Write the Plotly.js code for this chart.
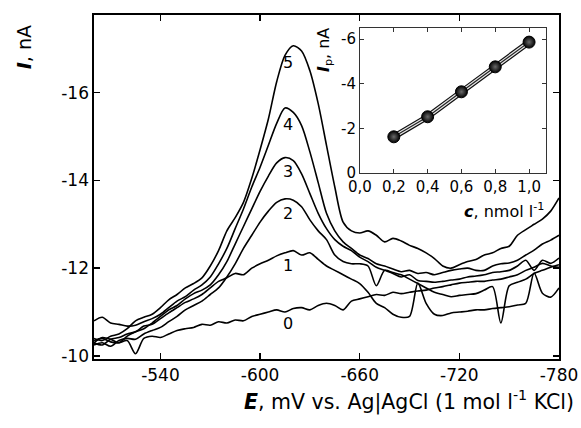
<!DOCTYPE html>
<html>
<head>
<meta charset="utf-8">
<script src="https://cdn.plot.ly/plotly-3.0.1.min.js"></script>
<style>html,body{margin:0;padding:0;background:#fff;}#chart{width:581px;height:428px;}</style>
</head>
<body>
<div id="chart"></div>
<script>
// Potential grid, mV
const E = [-500,-505,-510,-515,-520,-525,-530,-535,-540,-545,-550,-555,-560,-565,-570,-575,-580,-585,-590,-595,
-600,-605,-610,-615,-620,-625,-630,-635,-640,-645,-650,-655,-660,-665,-670,-675,-680,-685,-690,-695,
-700,-705,-710,-715,-720,-725,-730,-735,-740,-745,-750,-755,-760,-765,-770,-775,-780];

// Current, nA (curves 0..5)
const I0 = [-10.35,-10.40,-10.32,-10.30,-10.35,-10.05,-10.40,-10.45,-10.42,-10.50,-10.58,-10.62,-10.65,-10.72,-10.70,-10.78,-10.75,-10.82,-10.80,-10.90,
-10.95,-11.00,-11.05,-11.00,-11.08,-11.10,-11.05,-11.15,-11.20,-11.15,-11.05,-11.25,-11.30,-11.35,-11.40,-11.38,-11.45,-11.42,-11.45,-11.48,
-11.50,-11.55,-11.58,-11.62,-11.66,-11.68,-11.70,-11.70,-11.73,-11.75,-11.80,-11.85,-11.95,-12.02,-12.11,-12.05,-12.02];
const I1 = [-10.30,-10.25,-10.38,-10.42,-10.50,-10.55,-10.68,-10.72,-10.85,-10.98,-11.10,-11.22,-11.30,-11.40,-11.55,-11.70,-11.78,-11.88,-11.85,-12.00,
-12.10,-12.18,-12.28,-12.35,-12.40,-12.30,-12.35,-12.20,-12.05,-11.95,-11.85,-11.75,-11.65,-11.45,-11.20,-11.10,-10.95,-10.88,-10.90,-11.66,
-11.20,-10.95,-10.92,-10.98,-11.00,-11.02,-11.05,-11.05,-11.08,-11.10,-11.12,-11.16,-11.20,-11.89,-11.43,-11.34,-11.55];
const I2 = [-10.25,-10.30,-10.22,-10.35,-10.40,-10.38,-10.50,-10.58,-10.65,-10.78,-10.90,-11.05,-11.15,-11.25,-11.40,-11.55,-11.80,-12.10,-12.45,-12.75,
-13.05,-13.30,-13.50,-13.58,-13.55,-13.40,-13.10,-12.85,-12.65,-12.30,-12.15,-12.10,-12.10,-12.05,-11.60,-11.95,-11.90,-11.85,-11.75,-11.65,
-11.55,-11.45,-11.40,-11.35,-11.38,-11.40,-11.42,-11.50,-11.58,-10.75,-11.60,-11.68,-11.75,-11.88,-11.95,-12.02,-12.08];
const I3 = [-10.30,-10.42,-10.38,-10.30,-10.45,-10.55,-10.62,-10.75,-10.90,-11.05,-11.15,-11.30,-11.42,-11.50,-11.62,-11.85,-12.15,-12.55,-12.95,-13.35,
-13.75,-14.10,-14.40,-14.52,-14.45,-14.15,-13.70,-13.25,-12.90,-12.65,-12.50,-12.40,-12.25,-12.15,-12.02,-11.95,-11.88,-11.80,-11.85,-11.72,
-11.70,-11.68,-11.70,-11.73,-11.75,-11.80,-11.82,-11.85,-11.90,-11.92,-11.95,-12.05,-12.18,-11.95,-12.18,-12.11,-12.23];
const I4 = [-10.80,-10.88,-10.75,-10.72,-10.68,-10.70,-10.78,-10.85,-10.95,-11.10,-11.25,-11.35,-11.50,-11.62,-11.80,-12.10,-12.45,-12.90,-13.35,-13.85,
-14.30,-14.80,-15.30,-15.65,-15.55,-15.25,-14.65,-13.95,-13.25,-12.85,-12.60,-12.45,-12.30,-12.22,-12.10,-12.05,-11.98,-11.92,-11.95,-11.88,
-11.90,-11.85,-11.90,-11.95,-11.98,-12.00,-11.95,-11.95,-12.05,-12.10,-12.12,-12.18,-12.30,-12.41,-12.55,-12.64,-12.75];
const I5 = [-10.40,-10.35,-10.45,-10.50,-10.62,-10.80,-10.88,-10.95,-11.10,-11.28,-11.40,-11.55,-11.65,-11.78,-12.05,-12.40,-12.85,-13.15,-13.50,-14.05,
-14.70,-15.40,-16.25,-16.85,-17.07,-16.95,-16.50,-15.75,-14.80,-13.85,-13.05,-12.85,-12.80,-12.85,-12.75,-12.60,-12.68,-12.62,-12.52,-12.45,
-12.35,-12.22,-12.05,-12.00,-12.08,-12.15,-12.20,-12.30,-12.35,-12.45,-12.50,-12.75,-12.88,-13.00,-13.12,-13.30,-13.60];
const curves = [I0, I1, I2, I3, I4, I5];
const curveLabels = ['0','1','2','3','4','5'];
const labelI = [-10.75, -12.07, -13.25, -14.2, -15.27, -16.68];
const labelE = -617;

// Inset: peak current vs concentration
const conc = [0.2, 0.4, 0.6, 0.8, 1.0];
const Ip = [-1.62, -2.52, -3.64, -4.76, -5.87];

// Tick labels
const xTickVals = [-540, -600, -660, -720, -780];
const xTickText = ['-540', '-600', '-660', '-720', '-780'];
const yTickVals = [-10, -12, -14, -16];
const yTickText = ['-10', '-12', '-14', '-16'];
const x2TickVals = [0, 0.2, 0.4, 0.6, 0.8, 1.0];
const x2TickText = ['0,0', '0,2', '0,4', '0,6', '0,8', '1,0'];
const y2TickVals = [0, -2, -4, -6];
const y2TickText = ['0', '-2', '-4', '-6'];

const FONT = 'DejaVu Sans, Liberation Sans, Arial, sans-serif';

const traces = curves.map(function (c) {
  return {x: E, y: c, type: 'scatter', mode: 'lines', xaxis: 'x', yaxis: 'y',
    line: {color: '#000', width: 1.6, shape: 'spline', smoothing: 0.8}, hoverinfo: 'skip', showlegend: false};
});
traces.push({x: conc, y: Ip, type: 'scatter', mode: 'lines', xaxis: 'x2', yaxis: 'y2',
  line: {color: '#111', width: 6}, showlegend: false});
traces.push({x: conc, y: Ip, type: 'scatter', mode: 'lines', xaxis: 'x2', yaxis: 'y2',
  line: {color: '#e8e8e8', width: 3.6}, showlegend: false});
traces.push({x: conc, y: Ip, type: 'scatter', mode: 'lines+markers', xaxis: 'x2', yaxis: 'y2',
  line: {color: '#222', width: 1.2},
  marker: {size: 12, color: '#000', gradient: {type: 'radial', color: '#6a6a6a'}, line: {color: '#000', width: 1}},
  showlegend: false});

const annotations = curveLabels.map(function (t, k) {
  return {x: labelE, y: labelI[k], xref: 'x', yref: 'y', text: t, showarrow: false,
    font: {family: FONT, size: 16, color: '#000'}};
});
annotations.push({xref: 'paper', yref: 'paper', x: -0.15, y: 0.907, xanchor: 'center', yanchor: 'middle',
  text: '<b><i>I</i></b>, nA', textangle: -90, showarrow: false, font: {family: FONT, size: 19, color: '#000'}});
annotations.push({xref: 'paper', yref: 'paper', x: 1.036, y: -0.122, xanchor: 'right', yanchor: 'middle',
  text: '<b><i>E</i></b>, mV vs. Ag|AgCl (1 mol l<sup>-1</sup> KCl)', showarrow: false,
  font: {family: FONT, size: 20.5, color: '#000'}});
annotations.push({xref: 'paper', yref: 'paper', x: 0.4946, y: 0.898, xanchor: 'center', yanchor: 'middle',
  text: '<b><i>I</i></b><sub>p</sub>, nA', textangle: -90, showarrow: false, font: {family: FONT, size: 16, color: '#000'}});
annotations.push({xref: 'paper', yref: 'paper', x: 0.972, y: 0.433, xanchor: 'right', yanchor: 'middle',
  text: '<b><i>c</i></b>, nmol l<sup>-1</sup>', showarrow: false, font: {family: FONT, size: 16, color: '#000'}});

const layout = {
  width: 581, height: 428,
  margin: {l: 94, r: 22, t: 15, b: 69},
  paper_bgcolor: '#fff', plot_bgcolor: '#fff',
  showlegend: false,
  font: {family: FONT, color: '#000'},
  xaxis: {domain: [0, 1], anchor: 'y', range: [-500, -780], tickmode: 'array', tickvals: xTickVals, ticktext: xTickText,
    ticks: 'inside', ticklen: 6, tickwidth: 1.5, tickcolor: '#000', showline: true, linewidth: 1.6, linecolor: '#000',
    mirror: 'ticks', showgrid: false, zeroline: false, tickfont: {size: 17}},
  yaxis: {domain: [0, 1], anchor: 'x', range: [-9.93, -17.77], tickmode: 'array', tickvals: yTickVals, ticktext: yTickText,
    ticks: 'inside', ticklen: 6, tickwidth: 1.5, tickcolor: '#000', showline: true, linewidth: 1.6, linecolor: '#000',
    mirror: 'ticks', showgrid: false, zeroline: false, tickfont: {size: 17}},
  xaxis2: {domain: [0.572, 0.972], anchor: 'y2', range: [0, 1.1], tickmode: 'array', tickvals: x2TickVals, ticktext: x2TickText,
    ticks: 'inside', ticklen: 4, tickwidth: 1, tickcolor: '#333', showline: true, linewidth: 1, linecolor: '#333',
    mirror: 'ticks', showgrid: false, zeroline: false, tickfont: {size: 15}},
  yaxis2: {domain: [0.541, 0.962], anchor: 'x2', range: [0, -6.5], tickmode: 'array', tickvals: y2TickVals, ticktext: y2TickText,
    ticks: 'inside', ticklen: 4, tickwidth: 1, tickcolor: '#333', showline: true, linewidth: 1, linecolor: '#333',
    mirror: 'ticks', showgrid: false, zeroline: false, tickfont: {size: 15}},
  annotations: annotations
};

Plotly.newPlot('chart', traces, layout, {staticPlot: true, displayModeBar: false});
</script>
</body>
</html>
